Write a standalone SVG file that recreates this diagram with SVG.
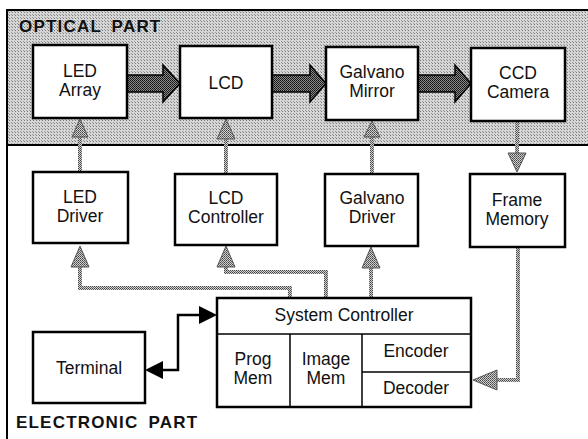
<svg xmlns="http://www.w3.org/2000/svg" width="588" height="439" viewBox="0 0 588 439">
<defs>
<pattern id="band" width="3" height="3" patternUnits="userSpaceOnUse">
<rect width="3" height="3" fill="#d6d6d6"/>
<rect width="1" height="1" fill="#7a7a7a"/>
<rect x="2" y="2" width="1" height="1" fill="#9a9a9a"/>
</pattern>
<pattern id="dark" width="2" height="2" patternUnits="userSpaceOnUse">
<rect width="2" height="2" fill="#8a8a8a"/>
<rect width="1" height="1" fill="#111"/>
<rect x="1" y="1" width="1" height="1" fill="#222"/>
</pattern>
<pattern id="grey" width="2" height="2" patternUnits="userSpaceOnUse">
<rect width="2" height="2" fill="#d0d0d0"/>
<rect width="1" height="1" fill="#444"/>
<rect x="1" y="1" width="1" height="1" fill="#666"/>
</pattern>
</defs>
<style>
.box{fill:#fff;stroke:#000;stroke-width:2.5}
.t{font-family:"Liberation Sans",Arial,sans-serif;font-size:17.5px;fill:#111;text-anchor:middle}
.lbl{font-family:"Liberation Sans",Arial,sans-serif;font-size:17px;font-weight:bold;fill:#111;letter-spacing:1.2px;word-spacing:4px}
.thin{fill:none;stroke:#000;stroke-width:1.5}
.big{fill:url(#dark);stroke:#000;stroke-width:1.5}
.gl{fill:none;stroke:url(#grey);stroke-width:4}
.gh{fill:url(#grey);stroke:#555;stroke-width:1}
.bl{fill:none;stroke:#000;stroke-width:2.5}
</style>
<rect width="588" height="439" fill="#fff"/>
<g id="optical-band">
<rect x="8" y="10" width="582" height="135" fill="url(#band)"/>
<line x1="7" y1="10" x2="590" y2="10" stroke="#000" stroke-width="2"/>
<line x1="7" y1="145" x2="590" y2="145" stroke="#000" stroke-width="2"/>
<line x1="7" y1="9" x2="7" y2="439" stroke="#000" stroke-width="2"/>
<text class="lbl" x="19" y="32">OPTICAL PART</text>
</g>
<g id="electronic-label"><text class="lbl" x="16" y="428">ELECTRONIC PART</text></g>
<g id="connectors">
<path class="big" d="M127,75 H163 V65 L180,83.5 L163,102 V92 H127 Z"/>
<path class="big" d="M272,75 H310 V65 L326,83.5 L310,102 V92 H272 Z"/>
<path class="big" d="M418,75 H455 V65 L471,83.5 L455,102 V92 H418 Z"/>
<line class="gl" x1="80" y1="172" x2="80" y2="136"/>
<path class="gh" d="M80,119 L88,137 L72,137 Z"/>
<line class="gl" x1="226" y1="174" x2="226" y2="138"/>
<path class="gh" d="M226,119 L235,139 L217,139 Z"/>
<line class="gl" x1="372" y1="174" x2="372" y2="136"/>
<path class="gh" d="M372,121 L380,137 L364,137 Z"/>
<line class="gl" x1="517" y1="121" x2="517" y2="154"/>
<path class="gh" d="M517,172 L526,153 L508,153 Z"/>
<path class="gl" d="M290,298 V288 H80 V266"/>
<path class="gh" d="M80,246 L89,267 L71,267 Z"/>
<path class="gl" d="M326,298 V272 H226 V266"/>
<path class="gh" d="M226,246 L235,267 L217,267 Z"/>
<line class="gl" x1="371" y1="298" x2="371" y2="266"/>
<path class="gh" d="M371,247 L380,268 L362,268 Z"/>
<path class="gl" d="M518,247 V380 H496"/>
<path class="gh" d="M473,380 L497,370 L497,390 Z"/>
<path class="bl" d="M160,370 H178 V315 H202"/>
<path d="M217,315 L199,306 L199,324 Z" fill="#000"/>
<path d="M145,370 L163,361 L163,379 Z" fill="#000"/>
</g>
<g id="led-array"><rect class="box" x="33" y="45" width="94" height="73"/><text class="t" x="80" y="77">LED</text><text class="t" x="80" y="96">Array</text></g>
<g id="lcd"><rect class="box" x="180" y="46" width="92" height="72"/><text class="t" x="226" y="89">LCD</text></g>
<g id="galvano-mirror"><rect class="box" x="326" y="47" width="92" height="73"/><text class="t" x="372" y="78">Galvano</text><text class="t" x="372" y="97">Mirror</text></g>
<g id="ccd-camera"><rect class="box" x="471" y="48" width="94" height="73"/><text class="t" x="518" y="79">CCD</text><text class="t" x="518" y="98">Camera</text></g>
<g id="led-driver"><rect class="box" x="33" y="172" width="95" height="71"/><text class="t" x="80" y="203">LED</text><text class="t" x="80" y="222">Driver</text></g>
<g id="lcd-controller"><rect class="box" x="175" y="174" width="102" height="71"/><text class="t" x="226" y="204">LCD</text><text class="t" x="226" y="223">Controller</text></g>
<g id="galvano-driver"><rect class="box" x="325" y="174" width="93" height="72"/><text class="t" x="372" y="204">Galvano</text><text class="t" x="372" y="223">Driver</text></g>
<g id="frame-memory"><rect class="box" x="470" y="174" width="95" height="73"/><text class="t" x="517" y="206">Frame</text><text class="t" x="517" y="225">Memory</text></g>
<g id="terminal"><rect class="box" x="33" y="332" width="112" height="71"/><text class="t" x="89" y="374">Terminal</text></g>
<g id="system-controller">
<rect class="box" x="217" y="298" width="254" height="109"/>
<line class="thin" x1="217" y1="334" x2="471" y2="334"/>
<line class="thin" x1="290" y1="334" x2="290" y2="407"/>
<line class="thin" x1="362" y1="334" x2="362" y2="407"/>
<line class="thin" x1="362" y1="372" x2="471" y2="372"/>
<text class="t" x="344" y="321">System Controller</text>
<text class="t" x="253" y="365">Prog</text><text class="t" x="253" y="384">Mem</text>
<text class="t" x="326" y="365">Image</text><text class="t" x="326" y="384">Mem</text>
<text class="t" x="416" y="357">Encoder</text>
<text class="t" x="416" y="394">Decoder</text>
</g>
</svg>
